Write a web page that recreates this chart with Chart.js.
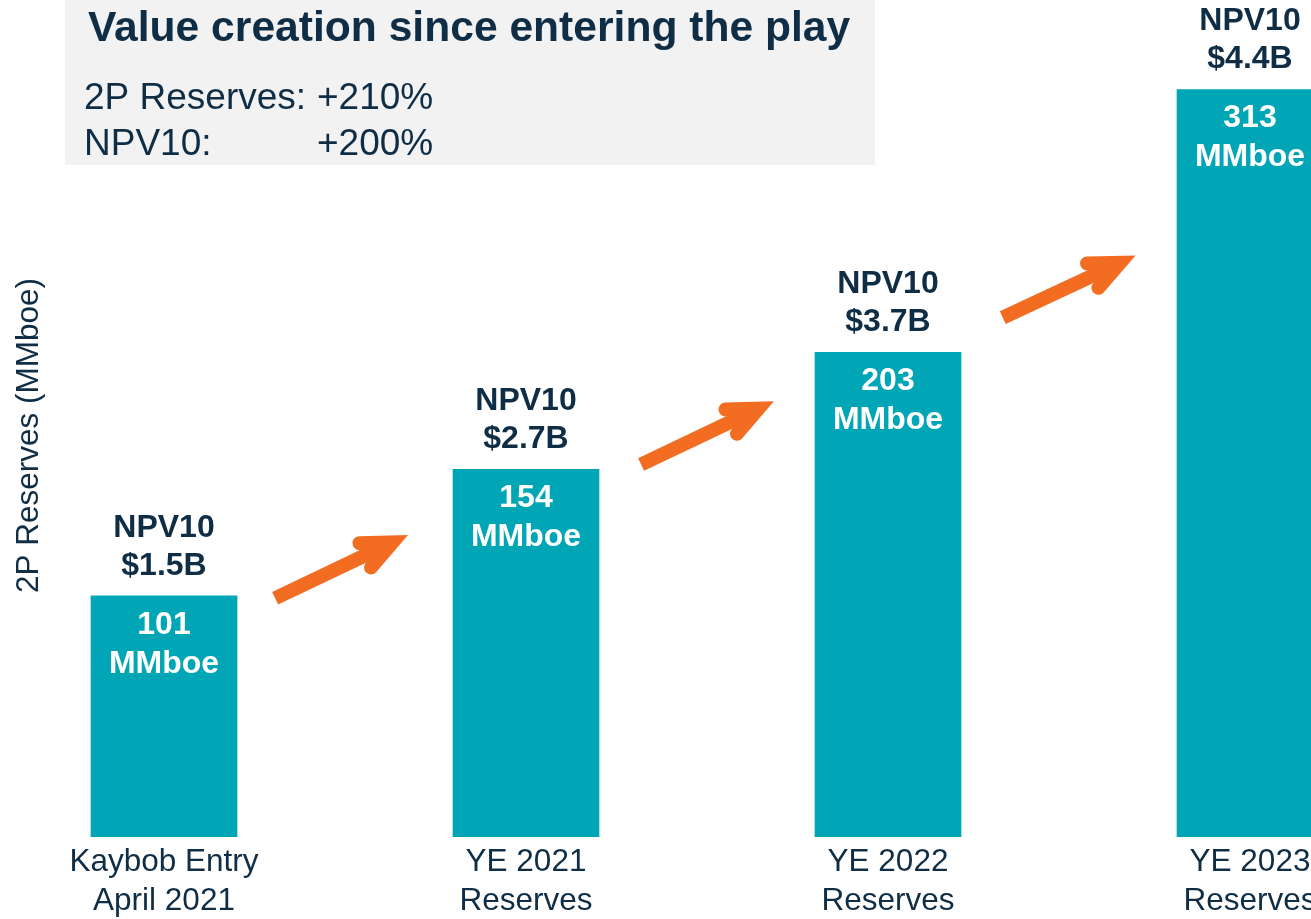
<!DOCTYPE html>
<html>
<head>
<meta charset="utf-8">
<script src="https://cdn.jsdelivr.net/npm/chart.js@4.4.1/dist/chart.umd.min.js"></script>
<style>
html,body{margin:0;padding:0;background:#ffffff;overflow:hidden;}
canvas{display:block;}
</style>
</head>
<body>
<canvas id="c" width="1311" height="919"></canvas>
<script>
// ---- data ----
const categories = [
  ['Kaybob Entry', 'April 2021'],
  ['YE 2021', 'Reserves'],
  ['YE 2022', 'Reserves'],
  ['YE 2023', 'Reserves']
];
const reserves = [101, 154, 203, 313];
const npv10 = ['$1.5B', '$2.7B', '$3.7B', '$4.4B'];
const reserveUnit = 'MMboe';
const npvLabel = 'NPV10';
const titleText = 'Value creation since entering the play';
const summaryLabels = ['2P Reserves:', 'NPV10:'];
const summaryValues = ['+210%', '+200%'];
const yAxisTitle = '2P Reserves (MMboe)';

// ---- styles ----
const FONT = '"Liberation Sans", Arial, Helvetica, sans-serif';
const NAVY = '#0f2e46';
const TEAL = '#00a5b6';
const ORANGE = '#f26c22';
const BOX = '#f2f2f2';

// arrow annotations (in data space: x = category position, y = MMboe)
const arrowAnnotations = [
  { from: [0.307, 100], to: [0.674, 126.5] },
  { from: [1.318, 156], to: [1.685, 182.5] },
  { from: [2.317, 217.5], to: [2.684, 243.5] }
];

function drawArrow(ctx, x1, y1, x2, y2) {
  const w = 14;
  const ang = Math.atan2(y2 - y1, x2 - x1);
  const half = 24 * Math.PI / 180;
  const arm = 33;
  const miter = (w / 2) / Math.sin(half);
  const jx = x2 - miter * Math.cos(ang), jy = y2 - miter * Math.sin(ang);
  ctx.save();
  ctx.strokeStyle = ORANGE;
  ctx.lineWidth = w;
  ctx.lineCap = 'butt';
  ctx.beginPath();
  ctx.moveTo(x1, y1);
  ctx.lineTo(jx - 3 * Math.cos(ang), jy - 3 * Math.sin(ang));
  ctx.stroke();
  ctx.lineCap = 'round';
  ctx.lineJoin = 'miter';
  ctx.miterLimit = 10;
  ctx.beginPath();
  ctx.moveTo(jx - arm * Math.cos(ang - half), jy - arm * Math.sin(ang - half));
  ctx.lineTo(jx, jy);
  ctx.lineTo(jx - arm * Math.cos(ang + half), jy - arm * Math.sin(ang + half));
  ctx.stroke();
  ctx.restore();
}

const headerPlugin = {
  id: 'header',
  beforeDraw(chart) {
    const ctx = chart.ctx;
    ctx.save();
    ctx.fillStyle = BOX;
    ctx.fillRect(65, 0, 810, 165);
    ctx.fillStyle = NAVY;
    ctx.textAlign = 'left';
    ctx.textBaseline = 'alphabetic';
    ctx.font = 'bold 42.6px ' + FONT;
    ctx.fillText(titleText, 88, 41);
    ctx.font = '37px ' + FONT;
    ctx.fillText(summaryLabels[0], 84, 109);
    ctx.fillText(summaryValues[0], 317, 109);
    ctx.fillText(summaryLabels[1], 84, 155);
    ctx.fillText(summaryValues[1], 317, 155);
    ctx.restore();
  }
};

const labelPlugin = {
  id: 'barLabels',
  afterDatasetsDraw(chart) {
    const ctx = chart.ctx;
    const meta = chart.getDatasetMeta(0);
    const xs = chart.scales.x, ys = chart.scales.y;
    ctx.save();
    arrowAnnotations.forEach(a => {
      drawArrow(ctx, xs.getPixelForValue(a.from[0]), ys.getPixelForValue(a.from[1]),
                     xs.getPixelForValue(a.to[0]), ys.getPixelForValue(a.to[1]));
    });
    ctx.textAlign = 'center';
    ctx.textBaseline = 'middle';
    ctx.font = 'bold 32px ' + FONT;
    meta.data.forEach((bar, i) => {
      ctx.fillStyle = '#ffffff';
      ctx.fillText(String(reserves[i]), bar.x, bar.y + 29);
      ctx.fillText(reserveUnit, bar.x, bar.y + 68);
      ctx.fillStyle = NAVY;
      ctx.fillText(npvLabel, bar.x, bar.y - 68);
      ctx.fillText(npv10[i], bar.x, bar.y - 30);
    });
    ctx.restore();
  }
};

new Chart(document.getElementById('c'), {
  type: 'bar',
  data: {
    datasets: [{
      data: reserves.map((v, i) => ({ x: i, y: v })),
      backgroundColor: TEAL,
      borderWidth: 0,
      barThickness: 146
    }]
  },
  options: {
    responsive: false,
    animation: false,
    layout: { padding: { top: 34, left: 0, right: 0, bottom: 0 } },
    plugins: {
      legend: { display: false },
      tooltip: { enabled: false }
    },
    scales: {
      x: {
        type: 'linear',
        offset: false,
        min: -0.2873,
        max: 3.1685,
        grid: { display: false, drawTicks: false },
        border: { display: false },
        afterBuildTicks(scale) {
          scale.ticks = categories.map((_, i) => ({ value: i }));
        },
        afterFit(scale) {
          scale.height = 82;
          scale.paddingLeft = 0;
          scale.paddingRight = 0;
        },
        ticks: {
          autoSkip: false,
          maxRotation: 0,
          minRotation: 0,
          padding: 6,
          color: NAVY,
          font: { family: FONT, size: 31.5, lineHeight: 1.24 },
          callback: (v) => categories[v] || ''
        }
      },
      y: {
        min: 0,
        max: 336.3,
        grid: { display: false, drawTicks: false },
        border: { display: false },
        ticks: { display: false },
        afterFit(scale) { scale.width = 60; },
        title: {
          display: true,
          text: yAxisTitle,
          color: NAVY,
          padding: { top: 10, bottom: 0 },
          font: { family: FONT, size: 31.5, lineHeight: 1.2 }
        }
      }
    }
  },
  plugins: [headerPlugin, labelPlugin]
});
</script>
</body>
</html>
